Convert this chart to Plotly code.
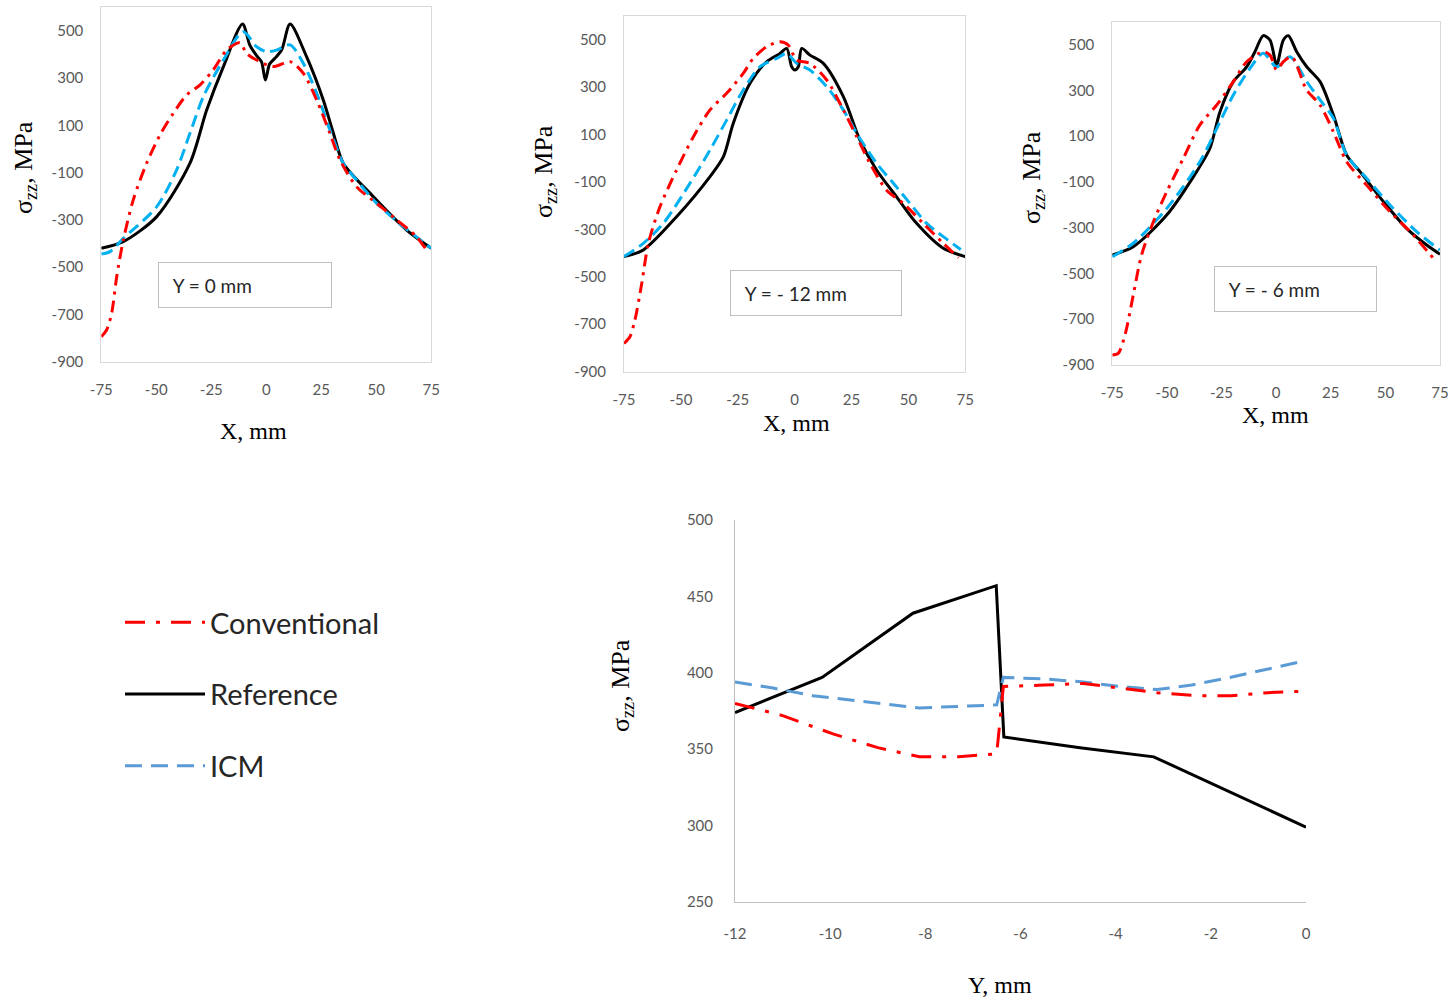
import plotly.graph_objects as go

W, H = 1451, 999

# ---------------- data: Y = 0 mm ----------------
conv0_x = [-75, -72.6, -70.3, -68, -65, -60.5, -54.4, -48.3, -42.3, -36.2, -30.2, -24.1, -18, -12, -9, -4.4, 3.2, 10.8, 16.8, 22.9, 28.9, 33.5, 41, 50.2, 59.3, 68.3, 73]
conv0_y = [-794, -766, -695, -540, -385, -216, -60, 60, 151, 229, 271, 335, 419, 450, 405, 377, 349, 370, 321, 208, 67, -46, -159, -230, -300, -371, -430]
ref0_x = [-75, -65, -49.8, -34.7, -27.1, -19.5, -10.8, -7.5, -4.4, -2.2, -0.4, 1.5, 4, 7, 10.8, 18.3, 25.9, 30.5, 35, 48.6, 63.8, 75]
ref0_y = [-420, -392, -286, -60, 165, 349, 529, 440, 395, 370, 292, 360, 385, 420, 529, 391, 208, 67, -60, -201, -343, -420]
icm0_x = [-75, -71, -65, -49.8, -40.8, -34.7, -28.6, -19.5, -10.5, -4.4, 0.2, 4.7, 10.8, 16.8, 22.9, 28.9, 35, 41, 50.2, 62.3, 75]
icm0_y = [-444, -434, -378, -244, -89, 67, 222, 377, 497, 433, 412, 419, 441, 363, 236, 81, -60, -131, -230, -328, -420]

# ---------------- data: Y = -12 mm ----------------
conv12_x = [-75, -72.4, -70.2, -67.2, -64.3, -59.2, -51.9, -44.5, -37.2, -29.9, -22.6, -18.2, -12.3, -6.4, -2.8, 0.9, 6.7, 14.1, 21.4, 27.3, 33.1, 40.4, 47.8, 56.5, 65.3, 72]
conv12_y = [-781, -753, -682, -528, -359, -205, -50, 90, 203, 273, 357, 420, 469, 490, 476, 413, 399, 329, 203, 90, -22, -135, -191, -275, -359, -420]
ref12_x = [-75, -66.5, -51.9, -37.2, -31.3, -27, -19.6, -12.3, -6.4, -3.5, -1.3, 0.1, 1.6, 3.1, 6.7, 12.6, 21.4, 28.7, 36, 44.8, 53.6, 65.3, 75]
ref12_y = [-415, -387, -247, -78, 6, 146, 315, 406, 441, 462, 385, 371, 385, 462, 434, 399, 259, 76, -50, -163, -275, -380, -415]
icm12_x = [-75, -66.5, -57.7, -46, -37.2, -29.9, -22.6, -15.2, -7.9, -3.5, 0.9, 6.7, 14.1, 21.4, 27.3, 36, 43.4, 50.7, 58, 65.3, 73]
icm12_y = [-415, -359, -275, -106, 34, 160, 287, 385, 420, 441, 399, 371, 301, 203, 104, -22, -106, -191, -275, -331, -385]

# ---------------- data: Y = -6 mm ----------------
conv6_x = [-75, -72.3, -69.2, -65.4, -61.6, -56.2, -50.1, -42.5, -34.9, -27.2, -19.6, -13.5, -5.9, -2.8, 0.2, 3.3, 7.1, 14, 20.1, 26.2, 32.3, 41.4, 52.1, 62.8, 72]
conv6_y = [-856, -849, -769, -594, -419, -274, -143, 3, 149, 236, 338, 425, 469, 454, 389, 425, 447, 301, 236, 119, -12, -114, -230, -332, -434]
ref6_x = [-75, -65.4, -50.1, -36.4, -30.3, -25.7, -19.6, -13.5, -9.7, -5.9, -2.8, 0.2, 3.3, 5.6, 9.4, 14, 20.1, 26.2, 32.3, 38.4, 49.1, 59.7, 68.9, 75]
ref6_y = [-419, -383, -245, -55, 47, 207, 338, 403, 469, 539, 520, 411, 520, 539, 469, 403, 338, 192, 17, -55, -186, -303, -376, -416]
icm6_x = [-75, -65.4, -50.1, -34.9, -25.7, -19.6, -12, -5.9, 0.2, 6.3, 14, 20.1, 26.2, 32.3, 41.4, 52.1, 64.3, 75]
icm6_y = [-427, -368, -216, -12, 163, 280, 396, 462, 403, 447, 338, 258, 178, 17, -84, -201, -317, -398]

# ---------------- data: along Y ----------------
convY_x = [-12, -11, -9.94, -9, -8.12, -7.3, -6.5, -6.36, -5.5, -4.68, -3.9, -3.13, -2.3, -1.57, -0.8, 0]
convY_y = [380, 372, 360, 351, 345, 345, 347, 391, 392, 393, 390, 387, 385, 385, 387, 388]
refY_x = [-12, -10.17, -8.26, -6.51, -6.35, -4.75, -3.2, 0]
refY_y = [374, 397, 439, 457, 358, 351, 345, 299]
icmY_x = [-12, -11.2, -10.36, -9.2, -8.12, -7.3, -6.5, -6.36, -5.5, -4.68, -3.9, -3.13, -2.4, -1.74, -0.9, 0]
icmY_y = [394, 390, 385, 381, 377, 378, 379, 397, 396, 394, 391, 389, 392, 396, 402, 408]

y_ticks_top = [-900, -700, -500, -300, -100, 100, 300, 500]
x_ticks_top = [-75, -50, -25, 0, 25, 50, 75]
x_ticks_bot = [-12, -10, -8, -6, -4, -2, 0]
y_ticks_bot = [250, 300, 350, 400, 450, 500]
panel_labels = ["Y = 0 mm", "Y = - 12 mm", "Y = - 6 mm"]

RED = "#FF0000"
BLACK = "#000000"
CYAN = "#00B0F0"
BLUE2 = "#5B9BD5"
DASHDOT_TOP = "12px,6px,3px,6px"
DASH_TOP = "12px,6px"
DASHDOT_BOT = "20px,11px,4px,11px"
DASH_BOT = "17px,9px"

fig = go.Figure()

panels = [
    (ref0_x, ref0_y, icm0_x, icm0_y, conv0_x, conv0_y, "x", "y"),
    (ref12_x, ref12_y, icm12_x, icm12_y, conv12_x, conv12_y, "x2", "y2"),
    (ref6_x, ref6_y, icm6_x, icm6_y, conv6_x, conv6_y, "x3", "y3"),
]
for rx, ry, ix, iy, cx, cy, xa, ya in panels:
    fig.add_trace(go.Scatter(x=rx, y=ry, mode="lines", xaxis=xa, yaxis=ya, showlegend=False,
                             line=dict(color=BLACK, width=3, shape="spline", smoothing=0.8)))
    fig.add_trace(go.Scatter(x=ix, y=iy, mode="lines", xaxis=xa, yaxis=ya, showlegend=False,
                             line=dict(color=CYAN, width=3, dash=DASH_TOP, shape="spline", smoothing=0.8)))
    fig.add_trace(go.Scatter(x=cx, y=cy, mode="lines", xaxis=xa, yaxis=ya, showlegend=False,
                             line=dict(color=RED, width=3, dash=DASHDOT_TOP, shape="spline", smoothing=0.8)))

# bottom chart (with legend)
fig.add_trace(go.Scatter(x=refY_x, y=refY_y, mode="lines", xaxis="x4", yaxis="y4", name="Reference",
                         legendgroup="b", legendrank=2, line=dict(color=BLACK, width=3)))
fig.add_trace(go.Scatter(x=icmY_x, y=icmY_y, mode="lines", xaxis="x4", yaxis="y4", name="ICM",
                         legendgroup="c", legendrank=3, line=dict(color=BLUE2, width=3, dash=DASH_BOT)))
fig.add_trace(go.Scatter(x=convY_x, y=convY_y, mode="lines", xaxis="x4", yaxis="y4", name="Conventional",
                         legendgroup="a", legendrank=1, line=dict(color=RED, width=3, dash=DASHDOT_BOT)))

tickfont = dict(family="Lato, Open Sans, sans-serif", size=15, color="#595959")
GRID = "#D9D9D9"

def labels(vals):
    return [str(v) for v in vals]

def top_axes(xdom, ydom):
    xa = dict(domain=xdom, range=[-75, 75], tickvals=x_ticks_top, ticktext=labels(x_ticks_top),
              showgrid=False, zeroline=False, automargin=False,
              showline=True, mirror=True, linecolor=GRID, linewidth=1, ticks="outside",
              ticklen=14, tickcolor="rgba(0,0,0,0)", tickfont=tickfont)
    ya = dict(domain=ydom, range=[-900, 600], tickvals=y_ticks_top, ticktext=labels(y_ticks_top),
              showgrid=False, zeroline=False, automargin=False,
              showline=True, mirror=True, linecolor=GRID, linewidth=1, ticks="outside",
              ticklen=14, tickcolor="rgba(0,0,0,0)", tickfont=tickfont)
    return xa, ya

def dx(px):
    return px / W

def dy(py):
    return 1 - py / H

xa1, ya1 = top_axes([dx(101.3), dx(431.3)], [dy(361.7), dy(7.3)])
xa2, ya2 = top_axes([dx(624), dx(965.3)], [dy(371.7), dy(15.7)])
xa3, ya3 = top_axes([dx(1112.3), dx(1440)], [dy(365), dy(21.7)])
ya1["anchor"] = "x"; xa1["anchor"] = "y"
ya2["anchor"] = "x2"; xa2["anchor"] = "y2"
ya3["anchor"] = "x3"; xa3["anchor"] = "y3"

xa4 = dict(domain=[dx(735), dx(1306)], range=[-12, 0], tickvals=x_ticks_bot, ticktext=labels(x_ticks_bot),
           anchor="y4", automargin=False,
           showgrid=False, zeroline=False, showline=True, linecolor="#BFBFBF", linewidth=1,
           ticks="outside", ticklen=18, tickcolor="rgba(0,0,0,0)", tickfont=tickfont)
ya4 = dict(domain=[dy(902), dy(520)], range=[250, 500], tickvals=y_ticks_bot, ticktext=labels(y_ticks_bot),
           anchor="x4", automargin=False,
           showgrid=False, zeroline=False, showline=True, linecolor="#BFBFBF", linewidth=1,
           ticks="outside", ticklen=18, tickcolor="rgba(0,0,0,0)", tickfont=tickfont)

annotations = []
titlefont = dict(family="Liberation Serif, Times New Roman, serif", size=24, color="#000000")
ylabel = "σ<sub>zz</sub>, MPa"
for (cx_, cy_) in [(253, 431), (796, 423), (1275, 415)]:
    annotations.append(dict(text="X, mm", x=dx(cx_), y=dy(cy_), xref="paper", yref="paper",
                            showarrow=False, font=titlefont, xanchor="center", yanchor="middle"))
annotations.append(dict(text="Y, mm", x=dx(1000), y=dy(985), xref="paper", yref="paper",
                        showarrow=False, font=titlefont, xanchor="center", yanchor="middle"))
for (cx_, cy_) in [(25, 168), (545, 172), (1033, 178), (622, 686)]:
    annotations.append(dict(text=ylabel, x=dx(cx_), y=dy(cy_), xref="paper", yref="paper",
                            showarrow=False, font=dict(titlefont, size=26), textangle=-90,
                            xanchor="center", yanchor="middle"))

boxfont = dict(family="Lato, Open Sans, sans-serif", size=19, color="#262626")
box_pos = [(-9.7, -575, "x", "y", 174), (9.4, -570, "x2", "y2", 172), (8.9, -568, "x3", "y3", 163)]
for (bx, by, xr, yr, bw), lab in zip(box_pos, panel_labels):
    annotations.append(dict(text="&nbsp;&nbsp;&nbsp;" + lab, x=bx, y=by, xref=xr, yref=yr, showarrow=False,
                            font=boxfont, align="left", width=bw - 2, height=44, borderpad=0,
                            bordercolor="#BFBFBF", borderwidth=1, bgcolor="#FFFFFF",
                            xanchor="center", yanchor="middle"))

fig.update_layout(
    width=W, height=H, margin=dict(l=0, r=0, t=0, b=0, autoexpand=False),
    paper_bgcolor="white", plot_bgcolor="white",
    xaxis=xa1, yaxis=ya1, xaxis2=xa2, yaxis2=ya2, xaxis3=xa3, yaxis3=ya3, xaxis4=xa4, yaxis4=ya4,
    annotations=annotations,
    legend=dict(x=dx(120), y=dy(597), xanchor="left", yanchor="top", traceorder="grouped",
                tracegroupgap=31, itemwidth=80, bgcolor="rgba(0,0,0,0)",
                font=dict(family="Lato, Open Sans, sans-serif", size=29, color="#262626")),
    showlegend=True,
)

fig.write_html("out.html", config={"displayModeBar": False},
               post_script="document.body.style.margin='0';document.body.style.overflow='hidden';")
